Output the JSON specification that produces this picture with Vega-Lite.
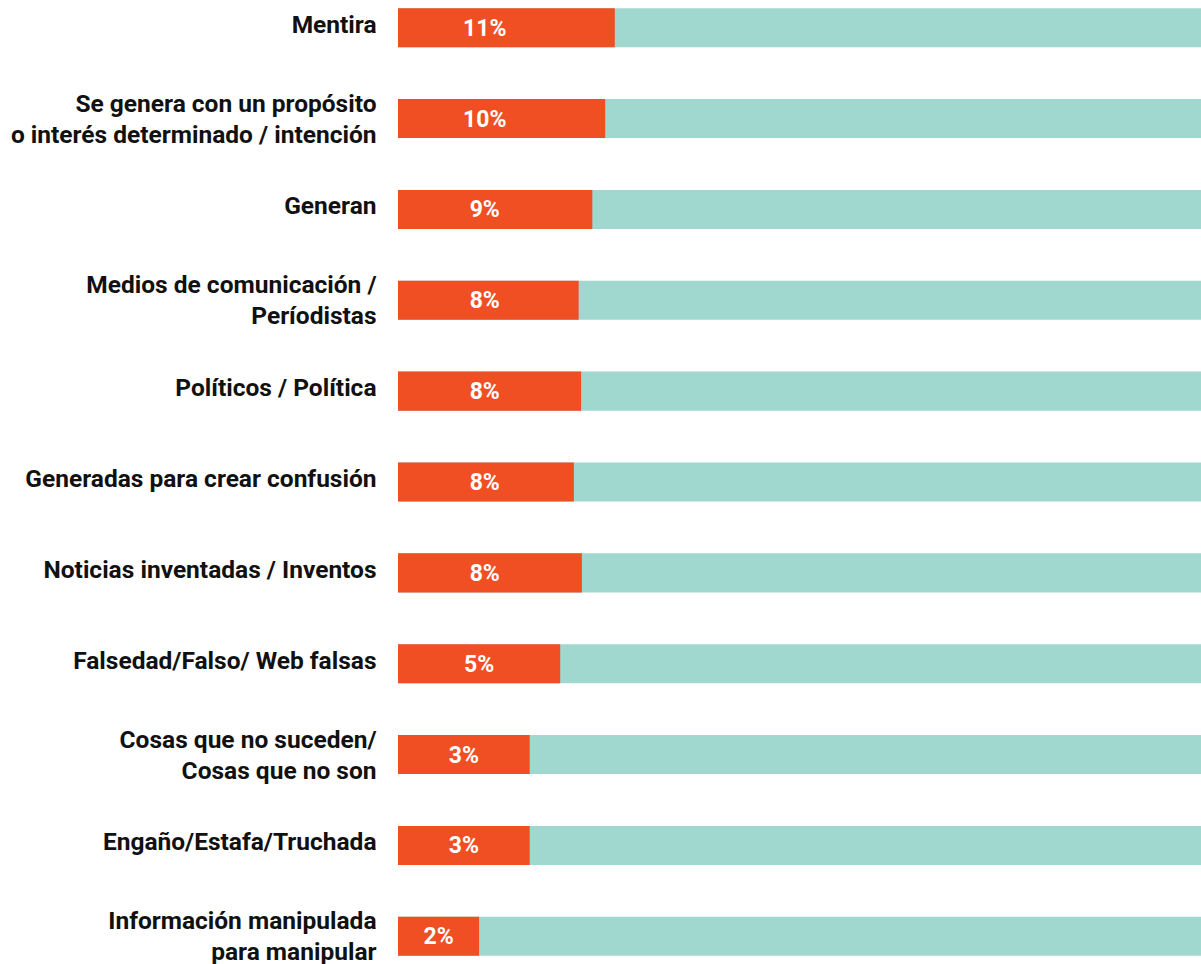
{
  "$schema": "https://vega.github.io/schema/vega-lite/v6.json",
  "width": 803,
  "height": 964,
  "autosize": {"type": "none"},
  "padding": {"left": 398, "top": 0, "right": 0, "bottom": 0},
  "background": "white",
  "config": {"view": {"stroke": null}},
  "data": {
    "values": [
      {"category": "Mentira", "label": "11%", "length": 27.0},
      {"category": "Se genera con un propósito|o interés determinado / intención", "label": "10%", "length": 25.8},
      {"category": "Generan", "label": "9%", "length": 24.2},
      {"category": "Medios de comunicación /|Períodistas", "label": "8%", "length": 22.5},
      {"category": "Políticos / Política", "label": "8%", "length": 22.8},
      {"category": "Generadas para crear confusión", "label": "8%", "length": 21.9},
      {"category": "Noticias inventadas / Inventos", "label": "8%", "length": 22.9},
      {"category": "Falsedad/Falso/ Web falsas", "label": "5%", "length": 20.2},
      {"category": "Cosas que no suceden/|Cosas que no son", "label": "3%", "length": 16.4},
      {"category": "Engaño/Estafa/Truchada", "label": "3%", "length": 16.4},
      {"category": "Información manipulada|para manipular", "label": "2%", "length": 10.1}
    ]
  },
  "encoding": {
    "y": {
      "field": "category",
      "type": "nominal",
      "sort": null,
      "scale": {"paddingInner": 0.57, "paddingOuter": 0.09},
      "axis": {
        "title": null,
        "domain": false,
        "ticks": false,
        "labelPadding": 22,
        "labelAlign": "right",
        "labelBaseline": "middle",
        "labelFont": "Roboto",
        "labelFontWeight": "bold",
        "labelFontSize": 24.5,
        "labelColor": "#111111",
        "labelLineHeight": 31,
        "labelLimit": 400,
        "labelOffset": {"condition": {"test": "indexof(datum.label, '|') >= 0", "value": -14}, "value": -2},
        "labelExpr": "split(datum.label, '|')"
      }
    }
  },
  "layer": [
    {
      "mark": {"type": "bar", "color": "#A0D8CF"},
      "encoding": {
        "x": {"datum": 100, "type": "quantitative", "scale": {"domain": [0, 100], "nice": false, "zero": true}, "axis": null}
      }
    },
    {
      "mark": {"type": "bar", "color": "#F04E23"},
      "encoding": {
        "x": {"field": "length", "type": "quantitative", "scale": {"domain": [0, 100]}, "axis": null}
      }
    },
    {
      "transform": [{"calculate": "min(datum.length / 2, 10.8)", "as": "textpos"}],
      "mark": {"type": "text", "color": "white", "font": "Roboto", "fontWeight": "bold", "fontSize": 23, "align": "center", "baseline": "middle", "dy": 1},
      "encoding": {
        "x": {"field": "textpos", "type": "quantitative", "scale": {"domain": [0, 100]}, "axis": null},
        "text": {"field": "label"}
      }
    }
  ]
}
